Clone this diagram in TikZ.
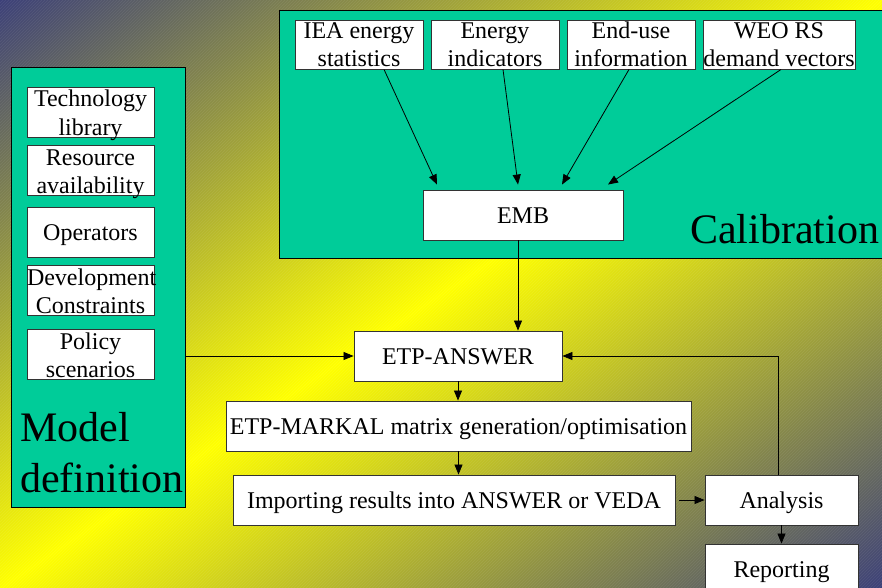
\documentclass[tikz,border=0pt]{standalone}
\usepackage{fontspec}
\setmainfont{Liberation Serif}
\usetikzlibrary{arrows.meta,patterns}
\definecolor{etpInk}{HTML}{000000}
\definecolor{etpEdge}{HTML}{333333}
\definecolor{etpGreen}{HTML}{00CC99}
\definecolor{etpSlate}{HTML}{3C4078}
\definecolor{etpYellow}{HTML}{FFFF00}
\tikzset{
  etp/base/.style={draw=etpEdge, line width=0.9pt, fill=white, align=center,
    font=\fontsize{24}{28.5}\selectfont, inner sep=0pt, minimum height=50pt,
    text height=16pt, text depth=0pt},
  etp/twoline/.style={etp/base, text height=46.5pt, text depth=3.5pt},
  etp/panel/.style={draw=etpInk, line width=0.9pt, fill=etpGreen, inner sep=0pt},
  etp/side/.style={etp/base, minimum width=127pt, text width=127pt,
    text height=20pt, text depth=30pt},
  etp/source/.style={etp/twoline, minimum width=128pt, minimum height=49pt,
    text height=47pt, text depth=2pt},
  etp/title/.style={font=\fontsize{42}{51}\selectfont, text=etpInk,
    inner sep=0pt, align=left},
  etp/arrow/.style={-{Triangle[length=10pt,width=8pt]}, draw=etpInk,
    line width=0.8pt},
}

\begin{document}
\begin{tikzpicture}[x=1pt,y=-1pt]
% diagonal backdrop: dark corners, yellow along the other diagonal
\begin{scope}
\clip (0,0) rectangle (882,588);
\begin{scope}[transform canvas={shift={(441pt,-294pt)}, xscale=4.41,
    yscale=2.94, rotate=-45}]
\shade[left color=etpSlate, right color=etpSlate, middle color=etpYellow]
  (-141.42pt,-141.42pt) rectangle (141.42pt,141.42pt);
\end{scope}
\end{scope}
\fill[pattern=north east lines, pattern color=white, opacity=0.08]
  (0,0) rectangle (882,588);
\useasboundingbox (0,0) rectangle (882,588);

% calibration block
\node[etp/panel, minimum width=605pt, minimum height=248pt] (calib) at (581.5,134) {};
\node[etp/source] (iea) at (359,44.5) {IEA energy\\statistics};
\node[etp/source] (indicators) at (495,44.5) {Energy\\indicators};
\node[etp/source] (enduse) at (631,44.5) {End-use\\information};
\node[etp/source, minimum width=152pt] (weo) at (779,44.5) {WEO RS\\demand vectors};
\node[etp/base, minimum width=200pt] (emb) at (523,215) {EMB};
\node[etp/title, anchor=base west] (calibtitle) at (690,243) {Calibration};

% model definition block
\node[etp/panel, minimum width=174pt, minimum height=440pt] (modeldef) at (98,287) {};
\node[etp/side] (techlib) at (90.5,112) {Technology\\library};
\node[etp/side] (resource) at (90.5,170) {Resource\\availability};
\node[etp/base, minimum width=127pt] (operators) at (90.5,232) {Operators};
\node[etp/side] (devcon) at (90.5,290) {Development\\Constraints};
\node[etp/side] (policy) at (90.5,354) {Policy\\scenarios};
\node[etp/title, anchor=north west] (modeltitle) at (20,412) {Model\\definition};

% model run chain
\node[etp/base, minimum width=208pt] (answer) at (458,356) {ETP-ANSWER};
\node[etp/base, minimum width=465pt] (markal) at (458.5,426)
  {ETP-MARKAL matrix generation/optimisation};
\node[etp/base, minimum width=442pt] (importing) at (454,500)
  {Importing results into ANSWER or VEDA};
\node[etp/base, minimum width=153pt] (analysis) at (781.5,500) {Analysis};
\node[etp/base, minimum width=153pt] (reporting) at (781.5,569) {Reporting};

\draw[etp/arrow] ([xshift=25pt]iea.south) -- ([xshift=-86pt,yshift=5pt]emb.north);
\draw[etp/arrow] ([xshift=8pt]indicators.south) -- ([xshift=-5pt,yshift=5pt]emb.north);
\draw[etp/arrow] ([xshift=-2pt]enduse.south) -- ([xshift=39pt,yshift=5pt]emb.north);
\draw[etp/arrow] ([xshift=2pt]weo.south) -- ([xshift=85pt,yshift=5pt]emb.north);
\draw[etp/arrow] ([xshift=-5pt]emb.south) -- ([xshift=-5pt]emb.south |- answer.north);
\draw[etp/arrow] (modeldef.east |- answer.west) -- (answer.west);
\draw[etp/arrow] (answer.south) -- (answer.south |- markal.north);
\draw[etp/arrow] (markal.south) -- (markal.south |- importing.north);
\draw[etp/arrow, shorten <=4pt] (importing.east) -- (analysis.west);
\draw[etp/arrow] (analysis.south) -- (reporting.north);
\draw[etp/arrow] ([xshift=-3.5pt]analysis.north) |- (answer.east);
\end{tikzpicture}
\end{document}
